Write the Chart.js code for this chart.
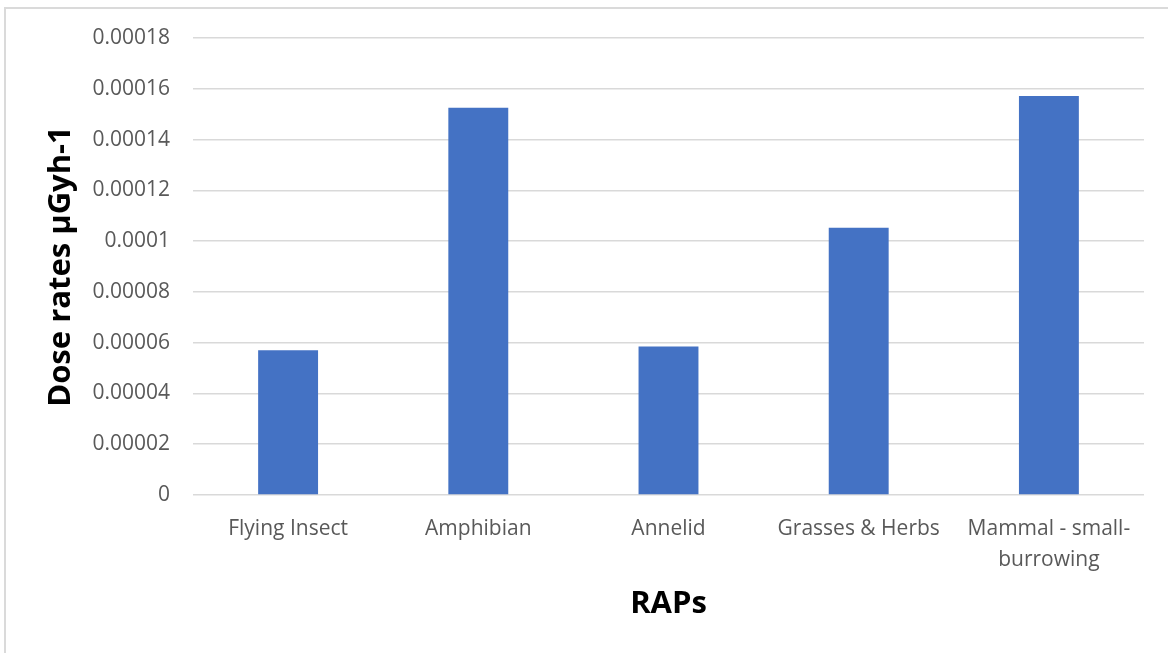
<!DOCTYPE html>
<html>
<head>
<meta charset="utf-8">
<script src="https://cdn.jsdelivr.net/npm/chart.js@4"></script>
<style>
    html, body { margin: 0; padding: 0; background: #fff; }
    #frame {
        position: absolute; left: 4px; top: 7px; width: 1300px; height: 800px;
        border-left: 2px solid #dadada; border-top: 2px solid #dadada;
    }
    #wrap { position: absolute; left: 0; top: 0; width: 1168px; height: 653px; }
</style>
</head>
<body>
<div id="frame"></div>
<div id="wrap"><canvas id="dose-chart"></canvas></div>
<script>
    // receptor groups and their dose rates (µGy/h)
    var categories = ['Flying Insect', 'Amphibian', 'Annelid', 'Grasses & Herbs', ['Mammal - small-', 'burrowing']];
    var doseRates = [0.0000570, 0.0001525, 0.0000585, 0.0001053, 0.0001572];
    var yMax = 0.00018;
    var yStep = 0.00002;

    var FONT = '"Open Sans", "Noto Sans", sans-serif';
    var tickColor = '#595959';
    var gridColor = '#d9d9d9';

    var ctx = document.getElementById('dose-chart').getContext('2d');
    new Chart(ctx, {
        type: 'bar',
        data: {
            labels: categories,
            datasets: [{
                label: 'Dose rates',
                data: doseRates,
                backgroundColor: '#4472c4',
                borderWidth: 0,
                categoryPercentage: 1,
                barPercentage: 0.315,
            }],
        },
        options: {
            responsive: true,
            maintainAspectRatio: false,
            animation: false,
            layout: { padding: { left: 0, top: 38, right: 24, bottom: 0 } },
            plugins: {
                legend: { display: false },
                tooltip: { enabled: false },
            },
            scales: {
                x: {
                    grid: { display: false, drawTicks: false },
                    border: { display: false },
                    ticks: {
                        color: tickColor,
                        font: { family: FONT, size: 21, lineHeight: 1.45 },
                        padding: 19,
                        maxRotation: 0,
                        autoSkip: false,
                    },
                    title: {
                        display: true,
                        text: 'RAPs',
                        color: '#000',
                        font: { family: FONT, size: 31, weight: 'bold', lineHeight: 1.2 },
                        padding: { top: 0, bottom: 30 },
                    },
                    afterFit: function (scale) {
                        scale.height = 158;
                    },
                },
                y: {
                    min: 0,
                    max: yMax,
                    grid: { color: gridColor, lineWidth: 1.5, drawTicks: false },
                    border: { display: false },
                    ticks: {
                        stepSize: yStep,
                        color: tickColor,
                        font: { family: FONT, size: 21 },
                        padding: 23,
                        callback: function (value) {
                            return Number(value.toFixed(6)).toString();
                        },
                    },
                    title: {
                        display: true,
                        text: 'Dose rates µGyh-1',
                        color: '#000',
                        font: { family: FONT, size: 31, weight: 'bold', lineHeight: 1.2 },
                        padding: { top: 43, bottom: 0 },
                    },
                    afterFit: function (scale) {
                        scale.width = 193;
                    },
                },
            },
        },
    });
</script>
</body>
</html>
